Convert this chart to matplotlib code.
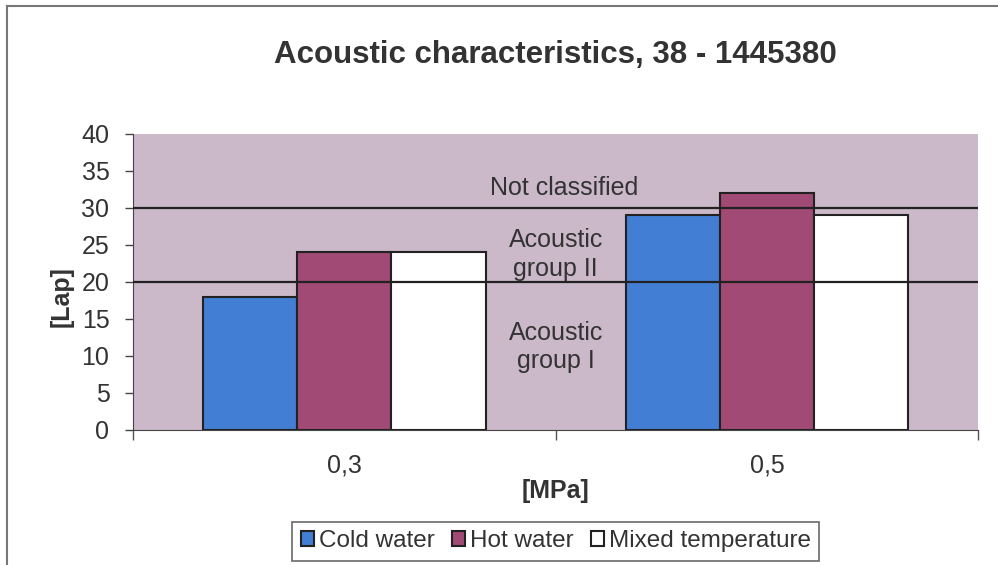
import numpy as np
import matplotlib
matplotlib.use("Agg")
import matplotlib.pyplot as plt
from matplotlib.lines import Line2D

plt.rcParams["font.family"] = ["Liberation Sans", "DejaVu Sans"]

# Daten
druck = ["0,3", "0,5"]
serien = ["Cold water", "Hot water", "Mixed temperature"]
cold_water = [18, 29]
hot_water = [24, 32]
mixed_temp = [24, 29]
grenzen = [20, 30]

farben = ["#427ed3", "#a24a76", "#ffffff"]
textfarbe = "#333333"

fig = plt.figure(figsize=(9.98, 5.65), dpi=100)
ax = fig.add_axes([0.1333, 0.239, 0.847, 0.524])

x = np.arange(len(druck))
bar_width = 0.223
werte = [cold_water, hot_water, mixed_temp]
for i, (name, vals) in enumerate(zip(serien, werte)):
    offset = (i - 1) * bar_width
    ax.bar(x + offset, vals, width=bar_width, color=farben[i], edgecolor="#222222",
           linewidth=1.5, label=name, zorder=3)

# Grenzlinien der Akustikgruppen
for g in grenzen:
    ax.axhline(g, color="#222222", linewidth=1.6, zorder=4)

ax.set_facecolor("#cbb8c8")
ax.set_xlim(-0.5, 1.5)
ax.set_ylim(0, 40)
ax.set_yticks(range(0, 41, 5))
ax.set_xticks(x)
ax.set_xticklabels(druck)
ax.set_xticks([-0.5, 0.5, 1.5], minor=True)
ax.tick_params(axis="x", which="major", length=0, pad=17, labelsize=18)
ax.tick_params(axis="x", which="minor", length=7, width=1, color="#555555")
ax.tick_params(axis="y", length=6, width=1, labelsize=18, pad=11, color="#444444")
for lbl in ax.get_yticklabels() + ax.get_xticklabels():
    lbl.set_color(textfarbe)

ax.spines["top"].set_visible(False)
ax.spines["right"].set_visible(False)
ax.spines["left"].set_color("#444444")
ax.spines["bottom"].set_color("#444444")

# Beschriftung der Bereiche
ax.text(0.52, 32.7, "Not classified", ha="center", va="center", fontsize=18, color=textfarbe, zorder=5)
ax.text(0.5, 23.7, "Acoustic\ngroup II", ha="center", va="center", fontsize=18,
        color=textfarbe, linespacing=1.25, zorder=5)
ax.text(0.5, 11.2, "Acoustic\ngroup I", ha="center", va="center", fontsize=18,
        color=textfarbe, linespacing=1.25, zorder=5)

ax.set_ylabel("[Lap]", fontsize=18, fontweight="bold", color=textfarbe)
ax.yaxis.set_label_coords(-0.07, 0.45)
ax.set_xlabel("[MPa]", fontsize=18, fontweight="bold", color=textfarbe)
ax.xaxis.set_label_coords(0.5, -0.165)
fig.text(0.556, 0.903, "Acoustic characteristics, 38 - 1445380", ha="center", va="center",
         fontsize=22.5, fontweight="bold", color=textfarbe)

leg = ax.legend(loc="upper center", bbox_to_anchor=(0.5, -0.31), ncol=3, fontsize=17.5,
                frameon=True, fancybox=False, edgecolor="#444444", handlelength=0.55,
                handleheight=0.55, handletextpad=0.2, columnspacing=0.7, borderpad=0.35,
                borderaxespad=0)
leg.get_frame().set_linewidth(1.2)
for t in leg.get_texts():
    t.set_color(textfarbe)

# Rahmen oben und links
fig.add_artist(Line2D([0.007, 1.0], [0.989, 0.989], color="#777777", linewidth=1.5))
fig.add_artist(Line2D([0.007, 0.007], [0.0, 0.989], color="#777777", linewidth=1.5))

fig.savefig("out.png", dpi=100)
